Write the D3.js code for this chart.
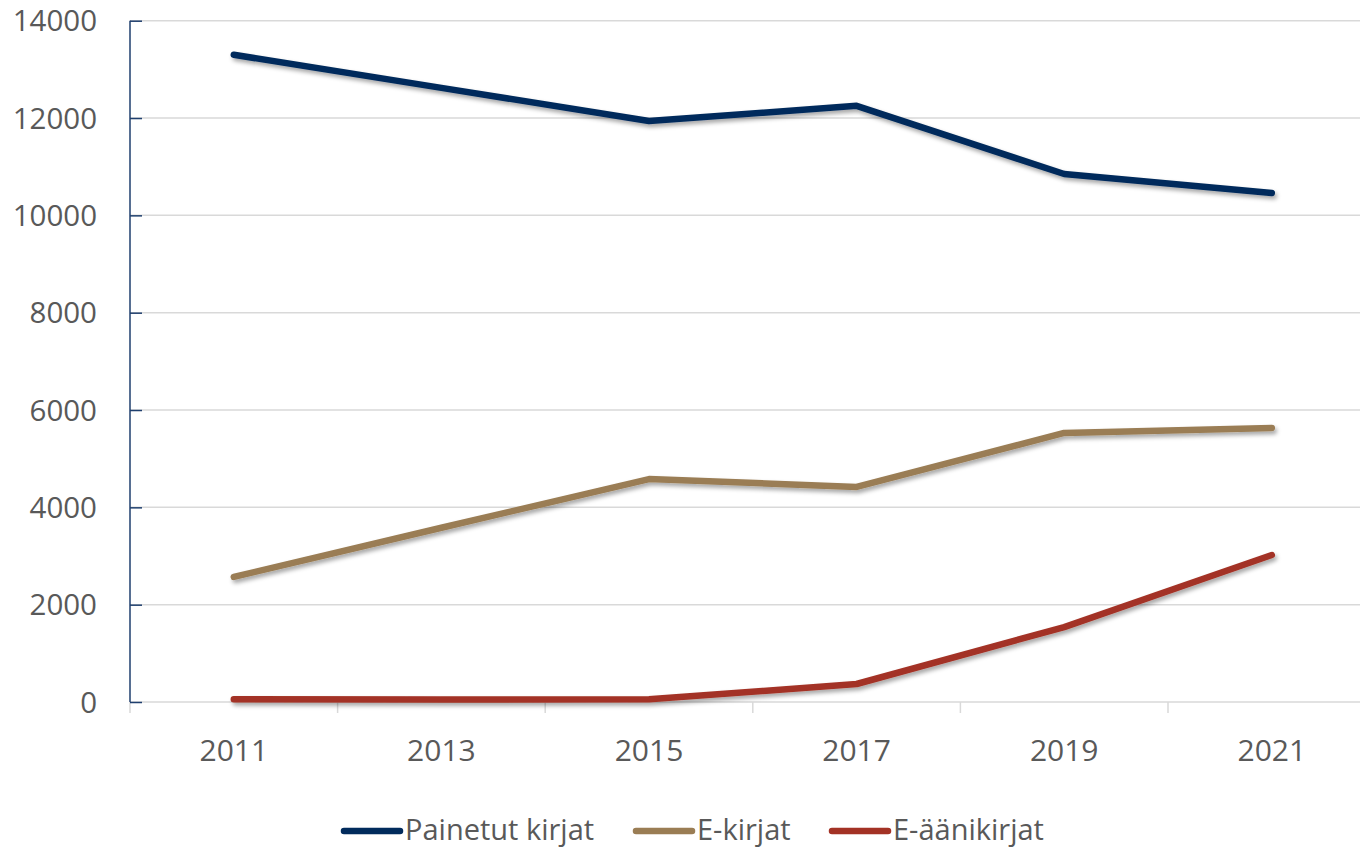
<!DOCTYPE html>
<html><head><meta charset="utf-8">
<script src="https://cdn.jsdelivr.net/npm/d3@7"></script>
<style>
html,body{margin:0;padding:0;background:#fff;}
svg{display:block;font-family:"Open Sans","Noto Sans",sans-serif;}
</style></head>
<body>
<svg id="chart" width="1360" height="849"></svg>
<script>
const years = ["2011","2013","2015","2017","2019","2021"];
const seriesNames = ["Painetut kirjat","E-kirjat","E-äänikirjat"];
const painetut = [13300,12620,11940,12250,10850,10460];
const ekirjat = [2570,3580,4580,4420,5530,5630];
const eaanikirjat = [55,50,55,370,1540,3020];
const yTicks = [0,2000,4000,6000,8000,10000,12000,14000];
const colors = ["#012b5c","#9a7d54","#a33225"];

const seriesValues = [painetut, ekirjat, eaanikirjat];
const svg = d3.select("#chart");

const defs = svg.append("defs");
const f = defs.append("filter").attr("id","shadow").attr("x","-10%").attr("y","-10%").attr("width","120%").attr("height","140%");
f.append("feDropShadow").attr("dx",2).attr("dy",3).attr("stdDeviation",2).attr("flood-color","#000").attr("flood-opacity",0.35);

const x = d3.scaleBand().domain(years).range([130,1375.6]).paddingInner(0).paddingOuter(0);
const y = d3.scaleLinear().domain([0,14000]).range([702,20.7]);

// gridlines
svg.append("g").selectAll("line").data(yTicks).join("line")
  .attr("x1",130).attr("x2",1376)
  .attr("y1",d=>y(d)).attr("y2",d=>y(d))
  .attr("stroke","#d9d9d9").attr("stroke-width",1.5);

// x axis ticks (at band boundaries)
const bounds = years.map(d=>x(d)).concat([x(years[years.length-1])+x.bandwidth()]);
svg.append("g").selectAll("line").data(bounds).join("line")
  .attr("x1",d=>d).attr("x2",d=>d).attr("y1",702).attr("y2",713)
  .attr("stroke","#d9d9d9").attr("stroke-width",1.5);

// x labels
svg.append("g").selectAll("text").data(years).join("text")
  .attr("x",d=>x(d)+x.bandwidth()/2).attr("y",761)
  .attr("text-anchor","middle").attr("fill","#595959")
  .attr("font-size",30).text(d=>d);

// y axis
const yAxis = svg.append("g").attr("transform","translate(130,0)")
  .call(d3.axisRight(y).tickValues(yTicks).tickSize(12).tickFormat(""));
yAxis.select(".domain").attr("stroke","#1f3f6e").attr("stroke-width",1.5).attr("d","M0,20.7V702");
yAxis.selectAll(".tick line").attr("stroke","#1f3f6e").attr("stroke-width",1.5);

svg.append("g").selectAll("text").data(yTicks).join("text")
  .attr("x",97).attr("y",d=>y(d)).attr("dy","0.36em")
  .attr("text-anchor","end").attr("fill","#595959")
  .attr("font-size",29.5).text(d=>d);

// lines
const line = d3.line().x((d,i)=>x(years[i])+x.bandwidth()/2).y(d=>y(d));
svg.append("g").selectAll("path").data(seriesValues).join("path")
  .attr("d",d=>line(d)).attr("fill","none")
  .attr("stroke",(d,i)=>colors[i]).attr("stroke-width",6.5)
  .attr("stroke-linecap","round").attr("stroke-linejoin","round")
  .attr("filter","url(#shadow)");

// legend
const legendX = [344,636,832];
const lg = svg.append("g");
seriesNames.forEach((name,i)=>{
  lg.append("line").attr("x1",legendX[i]).attr("x2",legendX[i]+56)
    .attr("y1",831).attr("y2",831).attr("stroke",colors[i])
    .attr("stroke-width",6.5).attr("stroke-linecap","round");
  lg.append("text").attr("x",legendX[i]+61).attr("y",840)
    .attr("fill","#595959").attr("font-size",29).text(name);
});
</script>
</body></html>
